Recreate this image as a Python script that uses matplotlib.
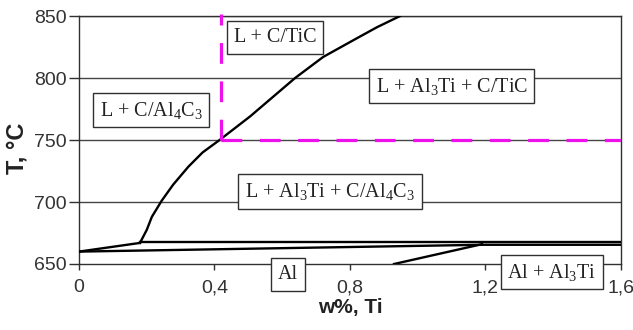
import matplotlib
matplotlib.use('Agg')
import matplotlib.pyplot as plt

# liquidus (Al3Ti primary) curve
liq_x = [0.18, 0.20, 0.215, 0.244, 0.278, 0.323, 0.365, 0.415, 0.505, 0.638,
         0.721, 0.82, 0.88, 0.948]
liq_t = [667, 677.5, 688, 701, 714, 728.5, 740, 750, 769, 800, 817, 832, 841, 850]

# low temperature lines
al_liq_x = [0.0, 0.18]
al_liq_t = [660, 667]
sol_x = [0.0, 1.19, 1.6]
sol_t = [660, 665.5, 665.5]
peri_x = [0.18, 1.6]
peri_t = [667.5, 667.5]
solvus_x = [0.93, 1.19]
solvus_t = [650, 666]

# magenta dashed boundary
carb_x = [0.418, 0.418]
carb_t = [750, 852]
carb_h_x = [0.418, 1.6]
carb_h_t = [750, 750]

grid_t = [700, 750, 800, 850]

labels = ['L + C/TiC', 'L + C/Al$_4$C$_3$', 'L + Al$_3$Ti + C/TiC',
          'L + Al$_3$Ti + C/Al$_4$C$_3$', 'Al', 'Al + Al$_3$Ti']
label_x = [0.579, 0.213, 1.10, 0.741, 0.617, 1.396]
label_t = [832.7, 774, 793.5, 708.5, 641.5, 643.5]

xticks = [0, 0.4, 0.8, 1.2, 1.6]
xtick_labels = ['0', '0,4', '0,8', '1,2', '1,6']
yticks = [650, 700, 750, 800, 850]

plt.rcParams['mathtext.default'] = 'regular'

fig = plt.figure(figsize=(6.33, 3.30), dpi=100)
ax = fig.add_axes([0.1248, 0.2, 0.8562, 0.7515])

for t in grid_t:
    ax.plot([0, 1.6], [t, t], color='#454545', lw=1.0, zorder=1)

ax.plot(liq_x, liq_t, color='black', lw=1.7, zorder=3)
ax.plot(al_liq_x, al_liq_t, color='black', lw=1.7, zorder=3)
ax.plot(sol_x, sol_t, color='black', lw=1.7, zorder=3)
ax.plot(peri_x, peri_t, color='black', lw=1.7, zorder=3)
ax.plot(solvus_x, solvus_t, color='black', lw=1.7, zorder=3)

ax.plot(carb_x, carb_t, color='#ee11ee', lw=2.3, dashes=(6.5, 5.5), zorder=4,
        clip_on=False)
ax.plot(carb_h_x, carb_h_t, color='#ee11ee', lw=2.3, dashes=(6.5, 5.5), zorder=4)

for s, x, t in zip(labels, label_x, label_t):
    ax.text(x, t, s, ha='center', va='center', fontsize=14.5,
            family='Liberation Serif', color='#222222', zorder=5, clip_on=False,
            bbox=dict(boxstyle='square,pad=0.33', fc='white', ec='#303030', lw=1.0))

ax.set_xlim(0, 1.6)
ax.set_ylim(650, 850)
ax.set_xticks(xticks)
ax.set_xticklabels(xtick_labels)
ax.set_yticks(yticks)
for lab in ax.get_xticklabels() + ax.get_yticklabels():
    lab.set_family('Liberation Sans')
    lab.set_fontsize(14)
    lab.set_color('#333333')
ax.tick_params(axis='y', direction='out', length=7, width=1, color='#303030', pad=2)
ax.tick_params(axis='x', direction='out', length=4, width=1, color='#303030', pad=7)

for sp in ax.spines.values():
    sp.set_color('#303030')
    sp.set_linewidth(1.0)

ax.set_xlabel('w%, Ti', family='Liberation Sans', fontweight='bold', fontsize=15,
              color='#222222', labelpad=1)
ax.set_ylabel('T, °C', family='Liberation Sans', fontweight='bold', fontsize=17,
              color='#222222')
ax.yaxis.set_label_coords(-0.094, 0.468)

fig.savefig('out.png', dpi=100)
